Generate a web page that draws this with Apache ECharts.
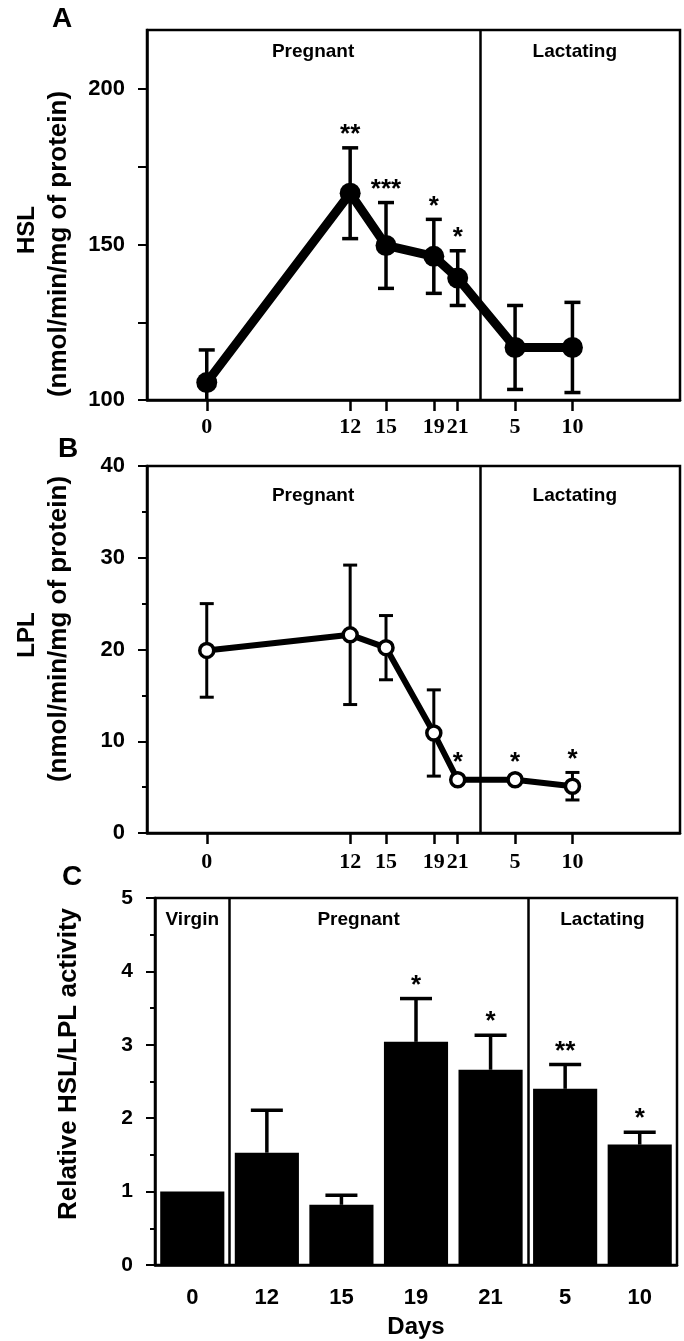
<!DOCTYPE html>
<html>
<head>
<meta charset="utf-8">
<script src="https://cdn.jsdelivr.net/npm/echarts@6/dist/echarts.min.js"></script>
<style>
  html, body { margin: 0; background: #fff; }
  #chart { width: 684px; height: 1341px; }
</style>
</head>
<body>
<div id="chart"></div>
<script>
// ---- data ----
// x position of each sampling day (pregnancy days 0..21, then lactation days 5 and 10)
const dayPos = [0, 12, 15, 19, 21, 25.8, 30.6];
const dayLabels = ['0', '12', '15', '19', '21', '5', '10'];
const phaseSplit = 22.85;

const hslMean = [105.6, 166.5, 149.7, 146.2, 139.2, 116.9, 116.9];
const hslSem = [10.5, 14.6, 13.8, 11.9, 8.8, 13.5, 14.5];
const hslStars = ['', '**', '***', '*', '*', '', ''];

const lplMean = [19.9, 21.6, 20.2, 10.9, 5.8, 5.8, 5.1];
const lplSem = [5.1, 7.6, 3.5, 4.7, 0.4, 0.4, 1.5];
const lplStars = ['', '', '', '', '*', '*', '*'];

const phaseNames = ['Pregnant', 'Lactating'];
const phaseCenters = [8.9, 30.8];

const ratioDays = ['0', '12', '15', '19', '21', '5', '10'];
const ratioMean = [1.0, 1.53, 0.82, 3.04, 2.66, 2.40, 1.64];
const ratioSem = [0, 0.58, 0.13, 0.59, 0.47, 0.33, 0.17];
const ratioStars = ['', '', '', '*', '*', '**', '*'];
const ratioPhaseNames = ['Virgin', 'Pregnant', 'Lactating'];
const ratioPhaseCenters = [0, 2.23, 5.5];
const ratioSplits = [0.5, 4.5];

const SANS = '"Liberation Sans", Arial, sans-serif';
const SERIF = '"Liberation Serif", "Times New Roman", serif';

const chart = echarts.init(document.getElementById('chart'));

function errorBars(halfCap, width, upOnly) {
  return function (params, api) {
    const x = api.value(0);
    const lo = api.value(1);
    const hi = api.value(2);
    if (hi === lo) return null;
    const top = api.coord([x, hi]);
    const bot = api.coord([x, lo]);
    const style = { stroke: '#000', lineWidth: width };
    const kids = [
      { type: 'line', shape: { x1: top[0], y1: top[1], x2: bot[0], y2: bot[1] }, style },
      { type: 'line', shape: { x1: top[0] - halfCap, y1: top[1], x2: top[0] + halfCap, y2: top[1] }, style }
    ];
    if (!upOnly) {
      kids.push({ type: 'line', shape: { x1: bot[0] - halfCap, y1: bot[1], x2: bot[0] + halfCap, y2: bot[1] }, style });
    }
    return { type: 'group', children: kids };
  };
}

function starText(stars) {
  return function (params, api) {
    const s = stars[params.dataIndex];
    if (!s) return null;
    const p = api.coord([api.value(0), api.value(1)]);
    return {
      type: 'text',
      style: {
        text: s, x: p[0], y: p[1] - 13,
        fill: '#000', fontSize: 26, fontWeight: 'bold', fontFamily: SANS,
        align: 'center', verticalAlign: 'middle'
      }
    };
  };
}

function phaseText(names, offset) {
  return function (params, api) {
    const p = api.coord([api.value(0), api.value(1)]);
    return {
      type: 'text',
      style: {
        text: names[params.dataIndex], x: p[0], y: params.coordSys.y + offset,
        fill: '#000', fontSize: 19, fontWeight: 'bold', fontFamily: SANS,
        align: 'center', verticalAlign: 'top'
      }
    };
  };
}

const divider = function (vals) {
  return {
    silent: true,
    symbol: ['none', 'none'],
    label: { show: false },
    lineStyle: { color: '#000', width: 2.5, type: 'solid' },
    data: vals.map(v => ({ xAxis: v }))
  };
};

const dayAxis = function (gridIndex, margin) {
  return {
    type: 'value', gridIndex: gridIndex, min: -5, max: 39.6,
    axisLine: { onZero: false, lineStyle: { color: '#000', width: 2.5 } },
    axisTick: { customValues: dayPos, length: 11, lineStyle: { color: '#000', width: 2.5 } },
    axisLabel: {
      customValues: dayPos, margin: margin,
      formatter: v => dayLabels[dayPos.indexOf(v)],
      color: '#000', fontFamily: SERIF, fontWeight: 'bold', fontSize: 22
    },
    splitLine: { show: false }
  };
};

const yAxisLine = { onZero: false, lineStyle: { color: '#000', width: 2.5 } };
const tickLine = { color: '#000', width: 2 };
const yLabel = { margin: 22, color: '#000', fontFamily: SANS, fontWeight: 'bold', fontSize: 22 };

chart.setOption({
  animation: false,
  backgroundColor: '#fff',
  grid: [
    { left: 147, top: 30, width: 533, height: 370, show: true, borderColor: '#000', borderWidth: 2.5 },
    { left: 147, top: 466, width: 533, height: 367, show: true, borderColor: '#000', borderWidth: 2.5 },
    { left: 155, top: 898, width: 522, height: 367, show: true, borderColor: '#000', borderWidth: 2.5 }
  ],
  xAxis: [
    dayAxis(0, 16),
    dayAxis(1, 18),
    {
      type: 'category', gridIndex: 2, data: ratioDays,
      axisLine: { onZero: false, lineStyle: { color: '#000', width: 2.5 } },
      axisTick: { show: false },
      axisLabel: { margin: 22, color: '#000', fontFamily: SANS, fontWeight: 'bold', fontSize: 22 },
      name: 'Days', nameLocation: 'middle', nameGap: 50,
      nameTextStyle: { color: '#000', fontFamily: SANS, fontWeight: 'bold', fontSize: 24 }
    },
    { type: 'value', gridIndex: 2, min: -0.5, max: 6.5, show: false }
  ],
  yAxis: [
    {
      type: 'value', gridIndex: 0, min: 100, max: 219,
      axisLine: yAxisLine, splitLine: { show: false },
      axisTick: { customValues: [100, 125, 150, 175, 200], length: 9, lineStyle: tickLine },
      axisLabel: Object.assign({ customValues: [100, 150, 200] }, yLabel)
    },
    {
      type: 'value', gridIndex: 1, min: 0, max: 40, interval: 10,
      axisLine: yAxisLine, splitLine: { show: false },
      axisTick: { length: 9, lineStyle: tickLine },
      minorTick: { show: true, splitNumber: 2, length: 5, lineStyle: tickLine },
      axisLabel: yLabel
    },
    {
      type: 'value', gridIndex: 2, min: 0, max: 5, interval: 1,
      axisLine: yAxisLine, splitLine: { show: false },
      axisTick: { length: 9, lineStyle: tickLine },
      minorTick: { show: true, splitNumber: 2, length: 5, lineStyle: tickLine },
      axisLabel: Object.assign({}, yLabel, { fontSize: 21 })
    }
  ],
  graphic: [
    { type: 'text', x: 62, y: 19, style: { text: 'A', fontSize: 28, fontWeight: 'bold', fontFamily: SANS, fill: '#000', align: 'center', verticalAlign: 'middle' } },
    { type: 'text', x: 68, y: 449, style: { text: 'B', fontSize: 28, fontWeight: 'bold', fontFamily: SANS, fill: '#000', align: 'center', verticalAlign: 'middle' } },
    { type: 'text', x: 72, y: 877, style: { text: 'C', fontSize: 28, fontWeight: 'bold', fontFamily: SANS, fill: '#000', align: 'center', verticalAlign: 'middle' } },
    { type: 'text', x: 27, y: 230, rotation: Math.PI / 2, style: { text: 'HSL', fontSize: 24, fontWeight: 'bold', fontFamily: '"Liberation Sans Narrow", ' + SANS, fill: '#000', align: 'center', verticalAlign: 'middle' } },
    { type: 'text', x: 59, y: 244, rotation: Math.PI / 2, style: { text: '(nmol/min/mg of protein)', fontSize: 26, fontWeight: 'bold', fontFamily: SANS, fill: '#000', align: 'center', verticalAlign: 'middle' } },
    { type: 'text', x: 27, y: 635, rotation: Math.PI / 2, style: { text: 'LPL', fontSize: 24, fontWeight: 'bold', fontFamily: '"Liberation Sans Narrow", ' + SANS, fill: '#000', align: 'center', verticalAlign: 'middle' } },
    { type: 'text', x: 59, y: 629, rotation: Math.PI / 2, style: { text: '(nmol/min/mg of protein)', fontSize: 26, fontWeight: 'bold', fontFamily: SANS, fill: '#000', align: 'center', verticalAlign: 'middle' } },
    { type: 'text', x: 69, y: 1064, rotation: Math.PI / 2, style: { text: 'Relative HSL/LPL activity', fontSize: 26, fontWeight: 'bold', fontFamily: SANS, fill: '#000', align: 'center', verticalAlign: 'middle' } }
  ],
  series: [
    // ---- A: HSL ----
    {
      type: 'custom', xAxisIndex: 0, yAxisIndex: 0, z: 2, clip: true,
      renderItem: errorBars(8, 3.5, false),
      encode: { x: 0, y: [1, 2] },
      data: dayPos.map((x, i) => [x, hslMean[i] - hslSem[i], hslMean[i] + hslSem[i]])
    },
    {
      type: 'line', xAxisIndex: 0, yAxisIndex: 0, z: 3,
      symbol: 'circle', symbolSize: 21,
      itemStyle: { color: '#000' },
      lineStyle: { color: '#000', width: 9, join: 'round' },
      data: dayPos.map((x, i) => [x, hslMean[i]]),
      markLine: divider([phaseSplit])
    },
    {
      type: 'custom', xAxisIndex: 0, yAxisIndex: 0, z: 4,
      renderItem: starText(hslStars),
      data: dayPos.map((x, i) => [x, hslMean[i] + hslSem[i]])
    },
    {
      type: 'custom', xAxisIndex: 0, yAxisIndex: 0, z: 4,
      renderItem: phaseText(phaseNames, 12),
      data: phaseCenters.map(x => [x, 100])
    },
    // ---- B: LPL ----
    {
      type: 'custom', xAxisIndex: 1, yAxisIndex: 1, z: 2, clip: true,
      renderItem: errorBars(7, 3, false),
      encode: { x: 0, y: [1, 2] },
      data: dayPos.map((x, i) => [x, lplMean[i] - lplSem[i], lplMean[i] + lplSem[i]])
    },
    {
      type: 'line', xAxisIndex: 1, yAxisIndex: 1, z: 3,
      symbol: 'circle', symbolSize: 14,
      itemStyle: { color: '#fff', borderColor: '#000', borderWidth: 3.5 },
      lineStyle: { color: '#000', width: 6, join: 'round' },
      data: dayPos.map((x, i) => [x, lplMean[i]]),
      markLine: divider([phaseSplit])
    },
    {
      type: 'custom', xAxisIndex: 1, yAxisIndex: 1, z: 4,
      renderItem: starText(lplStars),
      data: dayPos.map((x, i) => [x, lplMean[i] + lplSem[i]])
    },
    {
      type: 'custom', xAxisIndex: 1, yAxisIndex: 1, z: 4,
      renderItem: phaseText(phaseNames, 20),
      data: phaseCenters.map(x => [x, 0])
    },
    // ---- C: HSL/LPL ratio ----
    {
      type: 'bar', xAxisIndex: 2, yAxisIndex: 2, z: 2,
      barCategoryGap: '14%',
      itemStyle: { color: '#000' },
      data: ratioMean
    },
    {
      type: 'custom', xAxisIndex: 2, yAxisIndex: 2, z: 3,
      renderItem: errorBars(16, 3.5, true),
      data: ratioMean.map((m, i) => [i, m, m + ratioSem[i]])
    },
    {
      type: 'custom', xAxisIndex: 2, yAxisIndex: 2, z: 4,
      renderItem: starText(ratioStars),
      data: ratioMean.map((m, i) => [i, m + ratioSem[i]])
    },
    {
      type: 'custom', xAxisIndex: 3, yAxisIndex: 2, z: 4,
      renderItem: phaseText(ratioPhaseNames, 12),
      data: ratioPhaseCenters.map(x => [x, 0]),
      markLine: divider(ratioSplits)
    }
  ]
});
</script>
</body>
</html>
